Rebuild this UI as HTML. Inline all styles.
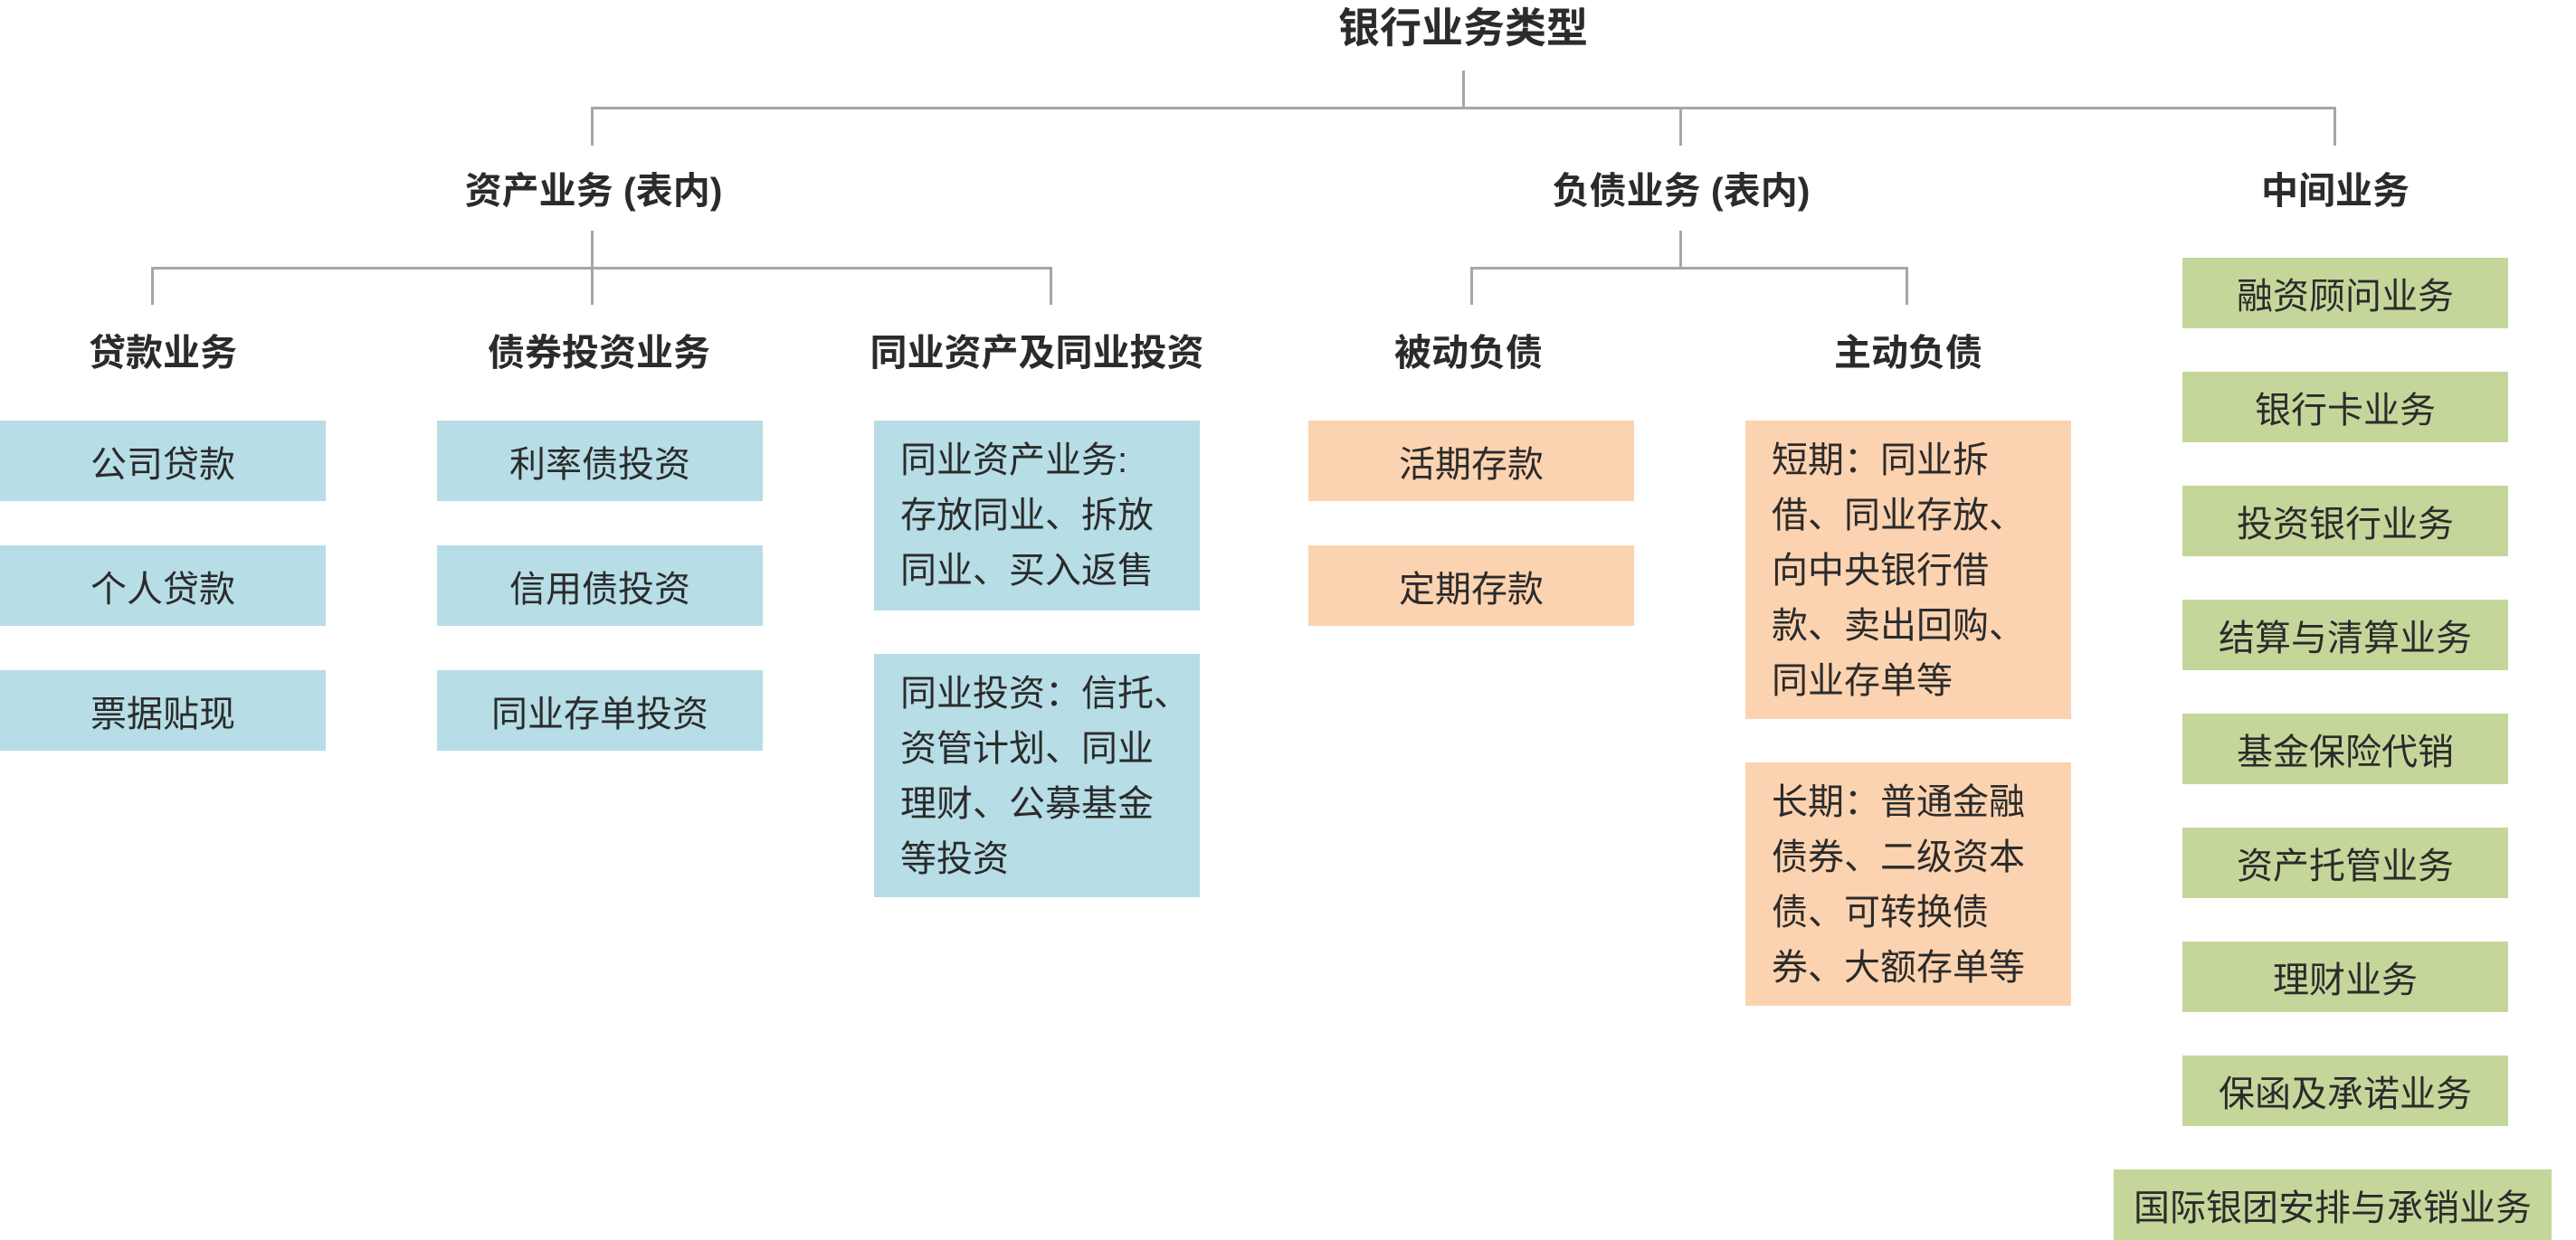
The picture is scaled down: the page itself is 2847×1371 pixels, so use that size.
<!DOCTYPE html>
<html><head><meta charset="utf-8"><style>
body{margin:0;width:2847px;height:1371px;position:relative;background:#fff;overflow:hidden;font-family:"Liberation Sans","Noto Sans CJK SC",sans-serif;color:#2b2b2b}
.l{position:absolute;background:#a6a6a6}
.h{position:absolute;font-weight:bold;font-size:41px;white-space:nowrap;transform:translate(-50%,-50%)}
.b{position:absolute;display:flex;align-items:center;justify-content:center;font-size:40px;white-space:nowrap}
.m{position:absolute;font-size:40px;line-height:61px;padding:14px 0 0 29px;box-sizing:border-box;white-space:nowrap}
.bl{background:#b7dde6}.or{background:#fcd3b0}.gr{background:#c5d69b}
</style></head><body>
<div class="h" style="left:1617px;top:28px;font-size:46px">银行业务类型</div>
<div class="l" style="left:1616px;top:78px;width:3px;height:42px"></div>
<div class="l" style="left:653px;top:118px;width:1929px;height:3px"></div>
<div class="l" style="left:653px;top:118px;width:3px;height:43px"></div>
<div class="l" style="left:1856px;top:118px;width:3px;height:43px"></div>
<div class="l" style="left:2579px;top:118px;width:3px;height:43px"></div>

<div class="h" style="left:656px;top:207px">资产业务 (表内)</div>
<div class="h" style="left:1858px;top:207px">负债业务 (表内)</div>
<div class="h" style="left:2581px;top:207px">中间业务</div>

<div class="l" style="left:653px;top:255px;width:3px;height:42px"></div>
<div class="l" style="left:167px;top:295px;width:996px;height:3px"></div>
<div class="l" style="left:167px;top:295px;width:3px;height:42px"></div>
<div class="l" style="left:653px;top:295px;width:3px;height:42px"></div>
<div class="l" style="left:1160px;top:295px;width:3px;height:42px"></div>

<div class="l" style="left:1856px;top:255px;width:3px;height:42px"></div>
<div class="l" style="left:1625px;top:295px;width:484px;height:3px"></div>
<div class="l" style="left:1625px;top:295px;width:3px;height:42px"></div>
<div class="l" style="left:2106px;top:295px;width:3px;height:42px"></div>

<div class="h" style="left:180px;top:386px">贷款业务</div>
<div class="h" style="left:662px;top:386px">债券投资业务</div>
<div class="h" style="left:1146px;top:386px">同业资产及同业投资</div>
<div class="h" style="left:1623px;top:386px">被动负债</div>
<div class="h" style="left:2109px;top:386px">主动负债</div>

<div class="b bl" style="left:0;top:465px;width:360px;height:89px">公司贷款</div>
<div class="b bl" style="left:0;top:603px;width:360px;height:89px">个人贷款</div>
<div class="b bl" style="left:0;top:741px;width:360px;height:89px">票据贴现</div>
<div class="b bl" style="left:483px;top:465px;width:360px;height:89px">利率债投资</div>
<div class="b bl" style="left:483px;top:603px;width:360px;height:89px">信用债投资</div>
<div class="b bl" style="left:483px;top:741px;width:360px;height:89px">同业存单投资</div>
<div class="m bl" style="left:966px;top:465px;width:360px;height:210px">同业资产业务:<br>存放同业、拆放<br>同业、买入返售</div>
<div class="m bl" style="left:966px;top:723px;width:360px;height:269px">同业投资：信托、<br>资管计划、同业<br>理财、公募基金<br>等投资</div>

<div class="b or" style="left:1446px;top:465px;width:360px;height:89px">活期存款</div>
<div class="b or" style="left:1446px;top:603px;width:360px;height:89px">定期存款</div>
<div class="m or" style="left:1929px;top:465px;width:360px;height:330px">短期：同业拆<br>借、同业存放、<br>向中央银行借<br>款、卖出回购、<br>同业存单等</div>
<div class="m or" style="left:1929px;top:843px;width:360px;height:269px">长期：普通金融<br>债券、二级资本<br>债、可转换债<br>券、大额存单等</div>

<div class="b gr" style="left:2412px;top:285px;width:360px;height:78px">融资顾问业务</div>
<div class="b gr" style="left:2412px;top:411px;width:360px;height:78px">银行卡业务</div>
<div class="b gr" style="left:2412px;top:537px;width:360px;height:78px">投资银行业务</div>
<div class="b gr" style="left:2412px;top:663px;width:360px;height:78px">结算与清算业务</div>
<div class="b gr" style="left:2412px;top:789px;width:360px;height:78px">基金保险代销</div>
<div class="b gr" style="left:2412px;top:915px;width:360px;height:78px">资产托管业务</div>
<div class="b gr" style="left:2412px;top:1041px;width:360px;height:78px">理财业务</div>
<div class="b gr" style="left:2412px;top:1167px;width:360px;height:78px">保函及承诺业务</div>
<div class="b gr" style="left:2336px;top:1293px;width:484px;height:78px">国际银团安排与承销业务</div>
</body></html>
